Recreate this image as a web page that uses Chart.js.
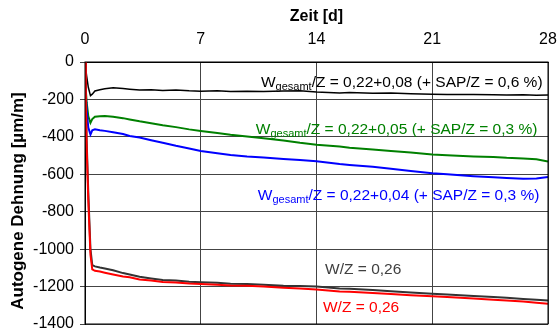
<!DOCTYPE html>
<html>
<head>
<meta charset="utf-8">
<script src="https://cdn.jsdelivr.net/npm/chart.js@4"></script>
<style>
  body { margin: 0; background: #fff; }
</style>
</head>
<body>
<canvas id="dehnung" width="558" height="332"></canvas>
<script>
// Messzeitpunkte in Tagen
const tage = [0, 0.05, 0.1, 0.2, 0.33, 0.44, 0.6, 0.9, 1.2, 1.7, 2.3, 2.7, 3.3, 4, 4.7, 5.5, 6.3, 7,
  8, 8.8, 9.8, 10.8, 12, 13, 14, 15.4, 16, 17.4, 18.5, 19.7, 21, 21.9, 23.5, 24.7, 25.5, 26.5, 27.3, 28];

// autogene Dehnung in µm/m
const sap06 = [0, -40, -75, -135, -180, -172, -155, -148, -143, -138, -142, -145, -149, -148, -152, -150, -154, -156,
  -154, -157, -156, -158, -155, -153, -160, -165, -163, -167, -166, -170, -172, -174, -173, -175, -176, -175, -178, -177];
const sap03a = [0, -150, -215, -290, -325, -305, -292, -290, -288, -292, -300, -307, -317, -327, -338, -348, -360, -369,
  -380, -389, -398, -407, -420, -432, -442, -451, -458, -468, -475, -483, -494, -498, -505, -508, -512, -515, -520, -532];
const sap03b = [0, -170, -260, -350, -388, -365, -360, -365, -368, -375, -385, -395, -403, -418, -432, -448, -462, -476,
  -488, -497, -505, -510, -518, -524, -530, -545, -550, -560, -570, -582, -594, -600, -610, -616, -620, -624, -622, -615];
const wz026a = [0, -200, -420, -700, -1000, -1085, -1092, -1098, -1103, -1113, -1128, -1136, -1148, -1157, -1165, -1168, -1174, -1177,
  -1180, -1185, -1186, -1190, -1195, -1197, -1200, -1210, -1212, -1218, -1225, -1232, -1238, -1242, -1250, -1256, -1260, -1266, -1270, -1274];
const wz026b = [0, -220, -450, -740, -1030, -1108, -1116, -1120, -1126, -1135, -1146, -1150, -1162, -1168, -1176, -1178, -1184, -1186,
  -1190, -1194, -1196, -1199, -1206, -1210, -1216, -1226, -1228, -1234, -1240, -1246, -1252, -1256, -1264, -1270, -1274, -1280, -1286, -1292];

const xTicks = [0, 7, 14, 21, 28];
const yTicks = [0, -200, -400, -600, -800, -1000, -1200, -1400];

const schrift = '"Liberation Sans", Arial, sans-serif';
const yTitel = 'Autogene Dehnung [µm/m]';

// Beschriftung der Kurven (Lage in Tagen / µm/m)
const kurvenText = [
  { tag: 10.64, wert: -131, farbe: '#000000', teile: [['W', false], ['gesamt', true], ['/Z = 0,22+0,08 (+ SAP/Z = 0,6 %)', false]] },
  { tag: 10.33, wert: -385, farbe: '#008000', teile: [['W', false], ['gesamt', true], ['/Z = 0,22+0,05 (+ SAP/Z = 0,3 %)', false]] },
  { tag: 10.45, wert: -738, farbe: '#0000ff', teile: [['W', false], ['gesamt', true], ['/Z = 0,22+0,04 (+ SAP/Z = 0,3 %)', false]] },
  { tag: 14.52, wert: -1135, farbe: '#404040', teile: [['W/Z = 0,26', false]] },
  { tag: 14.39, wert: -1337, farbe: '#ff0000', teile: [['W/Z = 0,26', false]] }
];

function punkte(werte) {
  return tage.map((t, i) => ({ x: t, y: werte[i] }));
}

function linie(werte, farbe, breite) {
  return {
    data: punkte(werte),
    borderColor: farbe,
    borderWidth: breite,
    pointRadius: 0,
    tension: 0
  };
}

// Rahmen um die Zeichenfläche, Achsentitel links und Texte an den Kurven
const rahmenUndText = {
  id: 'rahmenUndText',
  afterDatasetsDraw(chart) {
    const { ctx, chartArea: a, scales: { x, y } } = chart;
    ctx.save();
    ctx.strokeStyle = '#000';
    ctx.lineWidth = 1;
    ctx.strokeRect(a.left, a.top, a.right - a.left, a.bottom - a.top);

    // y-Titel etwas unterhalb der Mitte, wie im Excel-Diagramm
    ctx.save();
    ctx.translate(18, (a.top + a.bottom) / 2 + 8);
    ctx.rotate(-Math.PI / 2);
    ctx.font = 'bold 17px ' + schrift;
    ctx.fillStyle = '#000';
    ctx.textAlign = 'center';
    ctx.textBaseline = 'middle';
    ctx.fillText(yTitel, 0, 0);
    ctx.restore();

    ctx.textBaseline = 'alphabetic';
    kurvenText.forEach(t => {
      let px = x.getPixelForValue(t.tag);
      const py = y.getPixelForValue(t.wert);
      ctx.fillStyle = t.farbe;
      t.teile.forEach(([text, tief]) => {
        ctx.font = (tief ? '11px ' : '15.5px ') + schrift;
        ctx.fillText(text, px, tief ? py + 3 : py);
        px += ctx.measureText(text).width;
      });
    });
    ctx.restore();
  }
};

new Chart(document.getElementById('dehnung'), {
  type: 'line',
  data: {
    datasets: [
      linie(wz026b, '#ff0000', 2),
      linie(wz026a, '#333333', 2),
      linie(sap03b, '#0000ff', 2),
      linie(sap03a, '#008000', 2),
      linie(sap06, '#000000', 1.5)
    ]
  },
  options: {
    responsive: false,
    animation: false,
    layout: { padding: { top: 0, right: 10, bottom: 8, left: 0 } },
    plugins: { legend: { display: false }, tooltip: { enabled: false } },
    scales: {
      x: {
        type: 'linear',
        position: 'top',
        min: 0,
        max: 28,
        afterBuildTicks: s => { s.ticks = xTicks.map(v => ({ value: v })); },
        afterFit: s => { s.height = 62; s.paddingLeft = 0; s.paddingRight = 0; },
        ticks: { color: '#000', font: { family: schrift, size: 16 }, padding: 13, maxRotation: 0 },
        grid: { color: '#444', drawTicks: false },
        border: { color: '#000' },
        title: { display: true, text: 'Zeit [d]', color: '#000', font: { family: schrift, size: 16, weight: 'bold' }, padding: { top: 7, bottom: 0 } }
      },
      y: {
        min: -1400,
        max: 0,
        afterBuildTicks: s => { s.ticks = yTicks.map(v => ({ value: v })); },
        afterFit: s => { s.width = 85; s.paddingTop = 0; s.paddingBottom = 0; },
        ticks: { color: '#000', font: { family: schrift, size: 16 }, padding: 6, callback: v => String(v) },
        grid: { color: '#444', tickLength: 5 },
        border: { color: '#000' },
        title: { display: false }
      }
    }
  },
  plugins: [rahmenUndText]
});
</script>
</body>
</html>
